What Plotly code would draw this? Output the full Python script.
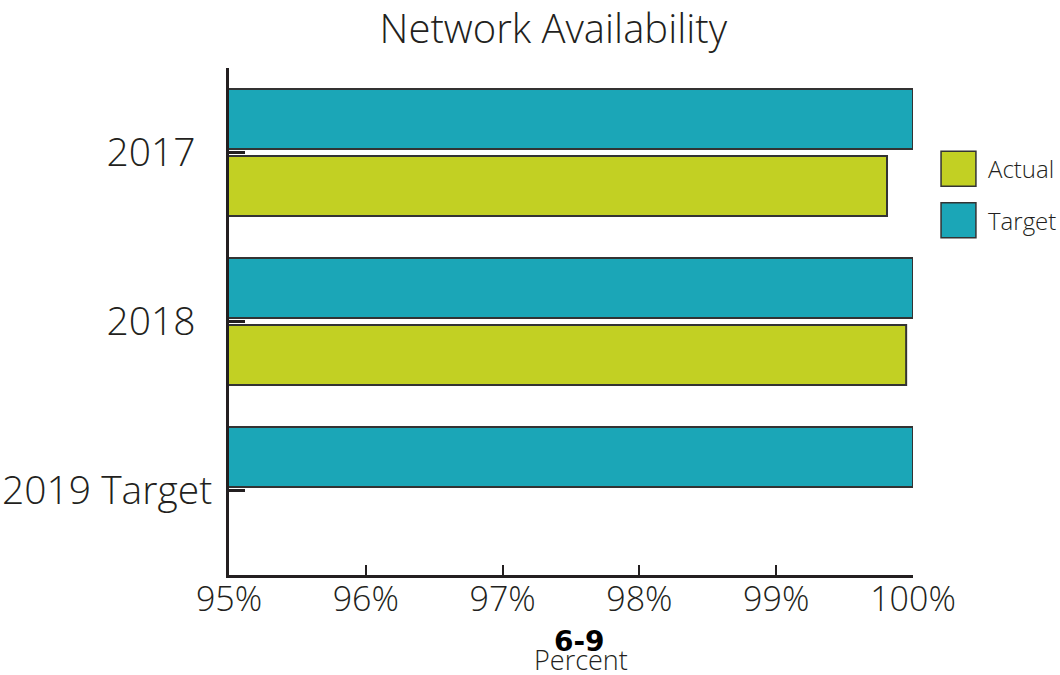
import plotly.graph_objects as go

# Network availability by year, in percent
categories = ["2017", "2018", "2019 Target"]
category_labels = ["2017\u00a0\u2009", "2018\u00a0\u2009", "2019 Target"]
target_values = [100.0, 100.0, 100.0]
actual_values = [99.81, 99.95, None]
x_ticks = [95, 96, 97, 98, 99, 100]
x_tick_labels = ["95%", "96%", "97%", "98%", "99%", "100%"]

TEAL = "#1ba6b7"
LIME = "#c2d023"
INK = "#231f20"
OUTLINE = "#333333"
FONT = "Open Sans"
LIGHT = 300

fig = go.Figure()
fig.add_trace(go.Bar(
    name="Target", y=categories, x=target_values, orientation="h",
    marker=dict(color=TEAL, line=dict(color=OUTLINE, width=2)),
    base=0, showlegend=False,
))
fig.add_trace(go.Bar(
    name="Actual", y=categories, x=actual_values, orientation="h",
    marker=dict(color=LIME, line=dict(color=OUTLINE, width=2)),
    base=0, showlegend=False,
))

# Legend drawn as large swatches with labels on the right
legend_items = [("Actual", LIME, 0.836), ("Target", TEAL, 0.734)]
for label, color, top in legend_items:
    fig.add_shape(type="rect", xref="paper", yref="paper",
                  x0=1.041, x1=1.092, y0=top - 0.069, y1=top,
                  fillcolor=color, line=dict(color=OUTLINE, width=1.5))
    fig.add_annotation(text=label, xref="paper", yref="paper",
                       x=1.106, y=top - 0.0345, xanchor="left", yanchor="middle",
                       showarrow=False,
                       font=dict(family=FONT, size=24, color=INK, weight=LIGHT))

fig.add_annotation(text="<b>6-9</b>", xref="paper", yref="paper",
                   x=0.512, y=-0.132, xanchor="center", yanchor="middle",
                   showarrow=False, font=dict(family="DejaVu Sans", size=28, color="#000000"))
fig.add_annotation(text="Percent", xref="paper", yref="paper",
                   x=0.515, y=-0.166, xanchor="center", yanchor="middle",
                   showarrow=False,
                   font=dict(family=FONT, size=27, color=INK, weight=LIGHT))

fig.update_layout(
    width=1060, height=675,
    margin=dict(l=229, r=147, t=68, b=100),
    paper_bgcolor="white", plot_bgcolor="white",
    barmode="group", bargap=0.207, bargroupgap=0.104,
    title=dict(text="Network Availability", x=0.522, xanchor="center",
               y=0.957, yanchor="middle",
               font=dict(family=FONT, size=40, color=INK, weight=LIGHT)),
    xaxis=dict(range=[95, 100], tickvals=x_ticks, ticktext=x_tick_labels,
               automargin=False,
               showgrid=False, zeroline=False,
               showline=True, linecolor=INK, linewidth=3,
               ticks="inside", ticklen=10, tickwidth=2, tickcolor=INK,
               ticklabelstandoff=-8,
               tickfont=dict(family=FONT, size=34, color=INK, weight=LIGHT)),
    yaxis=dict(categoryorder="array", categoryarray=categories,
               tickvals=categories, ticktext=category_labels,
               autorange="reversed", range=[2.5, -0.5],
               automargin=False,
               showgrid=False, zeroline=False,
               showline=True, linecolor=INK, linewidth=3,
               ticks="inside", ticklen=16, tickwidth=3, tickcolor=INK,
               ticklabelstandoff=6,
               tickfont=dict(family=FONT, size=39, color=INK, weight=LIGHT)),
)

fig.write_html("out.html")
